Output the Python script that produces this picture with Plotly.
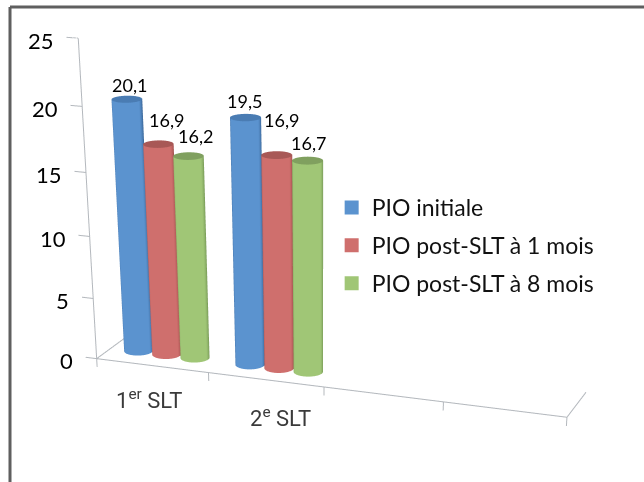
import numpy as np
import plotly.graph_objects as go

categories = ["1<sup>er</sup> SLT", "2<sup>e</sup> SLT"]
series_names = ["PIO initiale", "PIO post-SLT à 1 mois", "PIO post-SLT à 8 mois"]
series_values = [[20.1, 19.5], [16.9, 16.9], [16.2, 16.7]]
value_labels = [["20,1", "19,5"], ["16,9", "16,9"], ["16,2", "16,7"]]
z_ticks = [0, 5, 10, 15, 20, 25]
x_ticks = [0, 1, 2, 3, 4]

W, H = 644, 1800  # tall canvas gives the narrow field of view of the original; the page crops it to 482 px
radius = .12
eye = [2.2930, -6.4291, 1.8695]
center = [0.2541, -0.8353, -1.9565]
ax_, ay_ = 1.5940, 0.2388

x_range = [-.1, 4.1]; y_range = [0, 1]; z_range = [-.7, 25]
sx = (x_range[1] - x_range[0]) / 4; sz = (z_range[1] - z_range[0]) / 25
dx = (2 - sum(x_range) / 2) / 4 * ax_; dz = (12.5 - sum(z_range) / 2) / 25
eye2 = dict(x=eye[0] + dx, y=eye[1], z=eye[2] + dz)
center2 = dict(x=center[0] + dx, y=center[1], z=center[2] + dz)


def P(py):
    return 1 - py / H


colors = [("#3a6698", "#5b93cf", "#4a7cb3"), ("#a04e4c", "#cf6f6d", "#a85856"), ("#769856", "#a0c676", "#80a05f")]
bar_offset = [-.255, 0, .255]
fig = go.Figure()
theta = np.linspace(0, 2 * np.pi, 73)
ry = radius * (ax_ / 4) / ay_
flat = dict(ambient=1, diffuse=0, specular=0, fresnel=0, roughness=1)
for i, name in enumerate(series_names):
    for k, v in enumerate(series_values[i]):
        xc = k + .5 + bar_offset[i]
        X = np.array([xc + radius * np.cos(theta)] * 2)
        Y = np.array([.5 + ry * np.sin(theta)] * 2)
        Z = np.array([np.zeros_like(theta), np.full_like(theta, v)])
        shade = np.cos(theta + np.radians(75))
        S = np.array([shade, shade])
        dark, light, cap = colors[i]
        fig.add_trace(go.Surface(x=X, y=Y, z=Z, surfacecolor=S, cmin=0, cmax=1,
                                 colorscale=[[0, dark], [.5, light], [1, light]], showscale=False,
                                 hoverinfo="skip", lighting=flat))
        rs = np.array([0, 1.0])
        Xc = np.outer(rs, radius * np.cos(theta)) + xc
        Yc = np.outer(rs, ry * np.sin(theta)) + .5
        Zc = np.full_like(Xc, v)
        fig.add_trace(go.Surface(x=Xc, y=Yc, z=Zc, surfacecolor=np.zeros_like(Xc), cmin=0, cmax=1,
                                 colorscale=[[0, cap], [1, cap]], showscale=False, hoverinfo="skip", lighting=flat))

axis_gray = "#b4b8bd"


def seg(x, y, z):
    fig.add_trace(go.Scatter3d(x=x, y=y, z=z, mode="lines", line=dict(color=axis_gray, width=2),
                               hoverinfo="skip", showlegend=False))


seg([x_ticks[0], x_ticks[0], x_ticks[-1], x_ticks[-1]], [1, 0, 0, 1], [0, 0, 0, 0])
seg([0, 0], [0, 0], [0, z_ticks[-1]])
for t in z_ticks:
    seg([x_range[0], 0], [0, 0], [t, t])
for t in x_ticks:
    seg([t, t], [0, 0], [z_range[0], 0])

for i, name in enumerate(series_names):
    fig.add_trace(go.Scatter(x=[None], y=[None], mode="markers", name=name,
                             marker=dict(symbol="square", size=14, color=colors[i][1]), legendgroup=name))

notes = []
shifts = [[(3, 14), (-1, 17)], [(8, 24), (5, 35)], [(7, 20), (1, 18)]]
for i in range(3):
    for k in range(2):
        notes.append(dict(x=k + .5 + bar_offset[i], y=.5, z=series_values[i][k], text=value_labels[i][k],
                          showarrow=False, font=dict(family="Lato", size=18, color="#000"),
                          xshift=shifts[i][k][0], yshift=shifts[i][k][1]))
for k, c in enumerate(categories):
    notes.append(dict(x=k + .5, y=0, z=0, text=c, showarrow=False,
                      font=dict(family="Roboto", size=22, color="#3a3a3a"),
                      xshift=[-3, 15][k], yshift=[-33, -37][k]))
for t in z_ticks:
    notes.append(dict(x=0, y=0, z=t, text=str(t), showarrow=False, xanchor="right", xshift=-22, yshift=-2,
                      font=dict(family="Lato", size=22, color="#000")))

hidden = dict(visible=False, showspikes=False)
fig.update_layout(
    width=W, height=H, autosize=False, margin=dict(l=0, r=0, t=0, b=0),
    paper_bgcolor="white", plot_bgcolor="rgba(0,0,0,0)",
    xaxis=dict(visible=False), yaxis=dict(visible=False),
    scene=dict(domain=dict(x=[0, 1], y=[0, 1]), aspectmode="manual",
               aspectratio=dict(x=ax_ * sx, y=ay_, z=sz),
               camera=dict(eye=eye2, center=center2, up=dict(x=0, y=0, z=1), projection=dict(type="perspective")),
               xaxis=dict(range=x_range, **hidden), yaxis=dict(range=y_range, **hidden),
               zaxis=dict(range=z_range, **hidden), annotations=notes),
    legend=dict(x=.515, y=P(186), xanchor="left", yanchor="top",
                font=dict(family="Lato", size=23, color="#111"), tracegroupgap=5,
                bgcolor="rgba(0,0,0,0)", itemwidth=30),
    shapes=[dict(type="line", xref="paper", yref="paper", x0=10 / W, x1=10 / W, y0=P(482), y1=P(7),
                 line=dict(color="#5f5f5f", width=3)),
            dict(type="line", xref="paper", yref="paper", x0=10 / W, x1=1, y0=P(7), y1=P(7),
                 line=dict(color="#5f5f5f", width=3))])
css = ("document.documentElement.style.overflow='hidden';document.body.style.margin='0';"
       "document.body.style.overflow='hidden';document.body.style.height='482px';")
fig.write_html("out.html", post_script=css, config=dict(displayModeBar=False))
